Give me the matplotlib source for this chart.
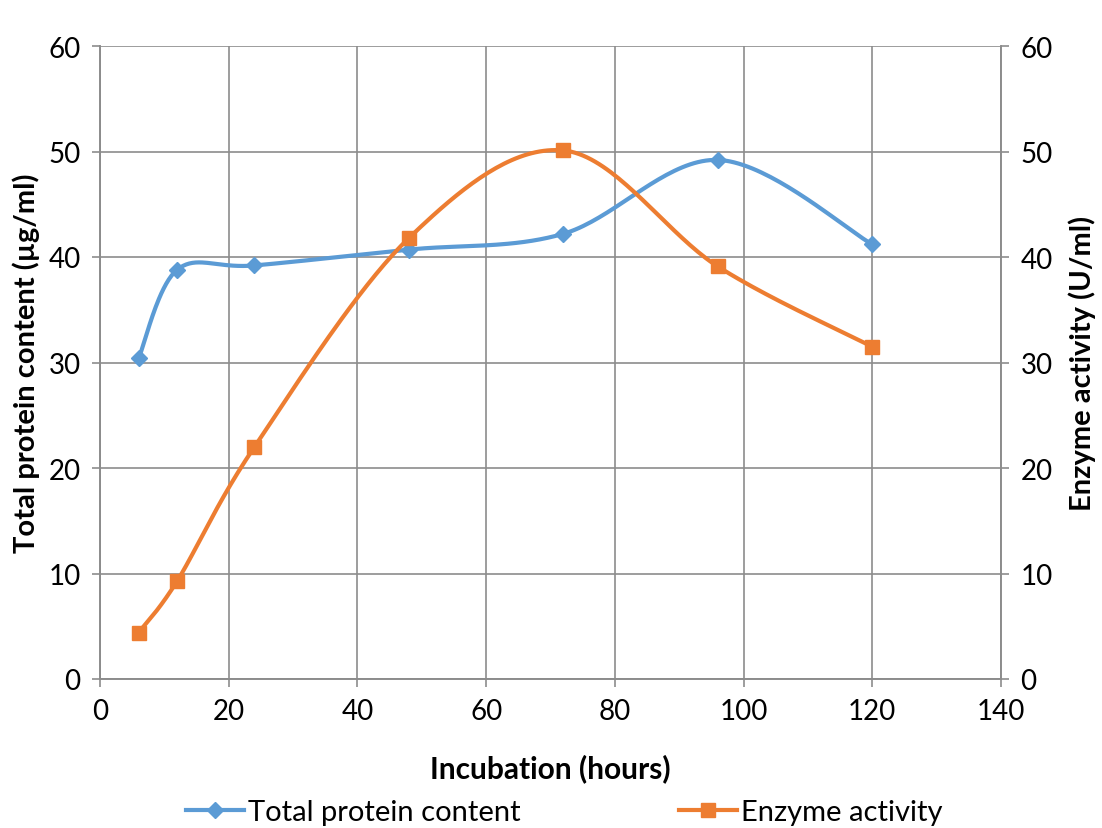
import numpy as np
import matplotlib
matplotlib.use('Agg')
from matplotlib import pyplot as plt

# data
hours = [6, 12, 24, 48, 72, 96, 120]
protein = [30.4, 38.8, 39.2, 40.7, 42.2, 49.2, 41.2]
enzyme = [4.4, 9.3, 22.0, 41.8, 50.1, 39.1, 31.5]

x_ticks = [0, 20, 40, 60, 80, 100, 120, 140]
y_ticks = [0, 10, 20, 30, 40, 50, 60]

blue = '#5B9BD5'
orange = '#ED7D31'
grid_col = '#8C8C8C'


def smooth(xs, ys, n=40):
    # excel-like smoothed line (bezier through the points)
    pts = np.column_stack([xs, ys]).astype(float)
    pts = np.vstack([pts[0], pts, pts[-1]])
    out = []
    for i in range(1, len(pts) - 2):
        p0, p1, p2, p3 = pts[i - 1], pts[i], pts[i + 1], pts[i + 2]
        c1 = p1 + (p2 - p0) / 6.0
        c2 = p2 - (p3 - p1) / 6.0
        t = np.linspace(0, 1, n)[:, None]
        seg = ((1 - t) ** 3) * p1 + 3 * ((1 - t) ** 2) * t * c1 + 3 * (1 - t) * t ** 2 * c2 + t ** 3 * p2
        out.append(seg)
    out = np.vstack(out)
    return out[:, 0], out[:, 1]


plt.rcParams['font.family'] = ['Lato', 'DejaVu Sans']

fig = plt.figure(figsize=(11.02, 8.29), dpi=100)
ax = fig.add_axes([100 / 1102, 1 - 680 / 829, 901 / 1102, 633 / 829])
ax2 = ax.twinx()

sx, sy = smooth(hours, protein)
ax.plot(sx, sy, color=blue, lw=3, zorder=3)
ax.plot(hours, protein, ls='none', marker='D', ms=8, color=blue, zorder=4)

ex, ey = smooth(hours, enzyme)
ax2.plot(ex, ey, color=orange, lw=3, zorder=3)
ax2.plot(hours, enzyme, ls='none', marker='s', ms=10, color=orange, zorder=4)

for a in (ax, ax2):
    a.set_xlim(0, 140)
    a.set_ylim(0, 60)
    a.set_yticks(y_ticks)
    for s in a.spines.values():
        s.set_color(grid_col)
        s.set_linewidth(1.2)
    a.tick_params(colors=grid_col, labelcolor='black', labelsize=20, length=6, width=1.2, pad=8)

ax.set_xticks(x_ticks)
ax.grid(True, color=grid_col, lw=1.2)
ax.set_axisbelow(True)
ax2.spines['top'].set_visible(False)
ax.spines['top'].set_visible(False)

ax.set_xlabel('Incubation (hours)', fontsize=21.5, fontweight='bold', labelpad=21)
ax.set_ylabel('Total protein content (\u00b5g/ml)', fontsize=21, fontweight='bold', labelpad=6)
ax2.set_ylabel('Enzyme activity (U/ml)', fontsize=21, fontweight='bold', labelpad=11)

# legend below the axes
h1, = ax.plot([], [], color=blue, lw=3, marker='D', ms=8)
h2, = ax.plot([], [], color=orange, lw=3, marker='s', ms=10)
fig.legend([h1, h2], ['Total protein content', 'Enzyme activity'], loc='center',
           bbox_to_anchor=(0.512, 1 - 813 / 829), ncol=2, frameon=False, fontsize=21,
           columnspacing=5.4, handlelength=2.0, handletextpad=0.15)

plt.savefig('out.png', dpi=100)
